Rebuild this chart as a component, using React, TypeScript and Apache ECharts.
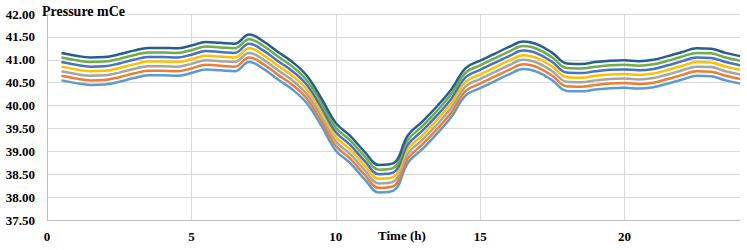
import React, { useEffect, useRef } from "react";
import * as echarts from "echarts";

const hours = [
  0.5, 1, 1.5, 2, 2.5, 3, 3.5, 4, 4.5, 5, 5.5, 6, 6.5, 7, 7.5, 8, 8.5, 9, 9.5, 10, 10.5, 11, 11.5, 12,
  12.5, 13, 13.5, 14, 14.5, 15, 15.5, 16, 16.5, 17, 17.5, 18, 18.5, 19, 19.5, 20, 20.5, 21, 21.5, 22,
  22.5, 23, 23.5, 24,
];

const series7 = [
  41.15, 41.09, 41.05, 41.06, 41.12, 41.2, 41.26, 41.26, 41.25, 41.31, 41.39, 41.37, 41.35, 41.55, 41.4, 41.17,
  40.95, 40.65, 40.16, 39.62, 39.34, 38.99, 38.7, 38.74, 39.35, 39.65, 39.98, 40.35, 40.82, 40.98, 41.13, 41.28,
  41.4, 41.33, 41.15, 40.92, 40.91, 40.95, 40.98, 40.99, 40.97, 41.0, 41.08, 41.17, 41.25, 41.24, 41.15, 41.08,
];
const series6 = [
  41.05, 40.99, 40.95, 40.96, 41.02, 41.1, 41.16, 41.16, 41.15, 41.21, 41.29, 41.27, 41.25, 41.45, 41.3, 41.07,
  40.85, 40.55, 40.06, 39.52, 39.24, 38.89, 38.6, 38.64, 39.25, 39.55, 39.88, 40.25, 40.72, 40.88, 41.03, 41.18,
  41.3, 41.23, 41.05, 40.82, 40.81, 40.85, 40.88, 40.89, 40.87, 40.9, 40.98, 41.07, 41.15, 41.14, 41.05, 40.98,
];
const series5 = [
  40.95, 40.89, 40.85, 40.86, 40.92, 41.0, 41.06, 41.06, 41.05, 41.11, 41.19, 41.17, 41.15, 41.35, 41.2, 40.97,
  40.75, 40.45, 39.96, 39.42, 39.14, 38.79, 38.5, 38.54, 39.15, 39.45, 39.78, 40.15, 40.62, 40.78, 40.93, 41.08,
  41.2, 41.13, 40.95, 40.72, 40.71, 40.75, 40.78, 40.79, 40.77, 40.8, 40.88, 40.97, 41.05, 41.04, 40.95, 40.88,
];
const series4 = [
  40.85, 40.79, 40.75, 40.76, 40.82, 40.9, 40.96, 40.96, 40.95, 41.01, 41.09, 41.07, 41.05, 41.25, 41.1, 40.87,
  40.65, 40.35, 39.86, 39.32, 39.04, 38.69, 38.4, 38.44, 39.05, 39.35, 39.68, 40.05, 40.52, 40.68, 40.83, 40.98,
  41.1, 41.03, 40.85, 40.62, 40.61, 40.65, 40.68, 40.69, 40.67, 40.7, 40.78, 40.87, 40.95, 40.94, 40.85, 40.78,
];
const series3 = [
  40.75, 40.69, 40.65, 40.66, 40.72, 40.8, 40.86, 40.86, 40.85, 40.91, 40.99, 40.97, 40.95, 41.15, 41.0, 40.77,
  40.55, 40.25, 39.76, 39.22, 38.94, 38.59, 38.3, 38.34, 38.95, 39.25, 39.58, 39.95, 40.42, 40.58, 40.73, 40.88,
  41.0, 40.93, 40.75, 40.52, 40.51, 40.55, 40.58, 40.59, 40.57, 40.6, 40.68, 40.77, 40.85, 40.84, 40.75, 40.68,
];
const series2 = [
  40.65, 40.59, 40.55, 40.56, 40.62, 40.7, 40.76, 40.76, 40.75, 40.81, 40.89, 40.87, 40.85, 41.05, 40.9, 40.67,
  40.45, 40.15, 39.66, 39.12, 38.84, 38.49, 38.2, 38.24, 38.85, 39.15, 39.48, 39.85, 40.32, 40.48, 40.63, 40.78,
  40.9, 40.83, 40.65, 40.42, 40.41, 40.45, 40.48, 40.49, 40.47, 40.5, 40.58, 40.67, 40.75, 40.74, 40.65, 40.58,
];
const series1 = [
  40.55, 40.49, 40.45, 40.46, 40.52, 40.6, 40.66, 40.66, 40.65, 40.71, 40.79, 40.77, 40.75, 40.95, 40.8, 40.57,
  40.35, 40.05, 39.56, 39.02, 38.74, 38.39, 38.1, 38.14, 38.75, 39.05, 39.38, 39.75, 40.22, 40.38, 40.53, 40.68,
  40.8, 40.73, 40.55, 40.32, 40.31, 40.35, 40.38, 40.39, 40.37, 40.4, 40.48, 40.57, 40.65, 40.64, 40.55, 40.48,
];

const allSeries = [series1, series2, series3, series4, series5, series6, series7];
const colors = ["#5B9BD5", "#ED7D31", "#A5A5A5", "#FFC000", "#4472C4", "#70AD47", "#255E91"];

const yTitle = "Pressure mCe";
const xTitle = "Time (h)";

const FONT = "Liberation Serif";

export default function App() {
  const ref = useRef<HTMLDivElement>(null);

  useEffect(() => {
    if (!ref.current) return;
    const chart = echarts.init(ref.current, null, { renderer: "svg" });
    const titleStyle = { color: "#000", fontFamily: FONT, fontWeight: "bold" as const, fontSize: 14 };
    chart.setOption({
      animation: false,
      backgroundColor: "#ffffff",
      title: [
        { text: yTitle, left: 37, top: -1, textStyle: titleStyle },
        { text: xTitle, left: 373, top: 224, textStyle: { ...titleStyle, fontSize: 13 } },
      ],
      grid: { left: 47, right: 7, top: 14, bottom: 30, containLabel: false },
      xAxis: {
        type: "value",
        min: 0,
        max: 24,
        interval: 5,
        axisLine: { show: true, lineStyle: { color: "#BFBFBF", width: 1 } },
        axisTick: { show: false },
        splitLine: { show: true, showMinLine: false, showMaxLine: false, lineStyle: { color: "#D9D9D9", width: 1 } },
        axisLabel: {
          color: "#000",
          fontFamily: FONT,
          fontWeight: "bold",
          fontSize: 13,
          margin: 10,
          showMaxLabel: false,
          formatter: (v: number) => (v === 24 ? "" : String(v)),
        },
      },
      yAxis: {
        type: "value",
        min: 37.5,
        max: 42,
        interval: 0.5,
        axisLine: { show: true, lineStyle: { color: "#BFBFBF", width: 1 } },
        axisTick: { show: false },
        splitLine: { show: true, lineStyle: { color: "#D9D9D9", width: 1 } },
        axisLabel: {
          color: "#000",
          fontFamily: FONT,
          fontWeight: "bold",
          fontSize: 13,
          margin: 12,
          formatter: (v: number) => v.toFixed(2),
        },
      },
      series: allSeries.map((vals, i) => ({
        type: "line",
        name: `Series ${i + 1}`,
        data: hours.map((h, j) => [h, vals[j]]),
        smooth: 0.4,
        showSymbol: false,
        symbol: "none",
        lineStyle: { color: colors[i], width: 2.5 },
        z: 2 + i,
      })),
    });
    return () => chart.dispose();
  }, []);

  return (
    <div
      ref={ref}
      style={{ position: "absolute", left: 0, top: 0, width: 747, height: 250 }}
    />
  );
}
